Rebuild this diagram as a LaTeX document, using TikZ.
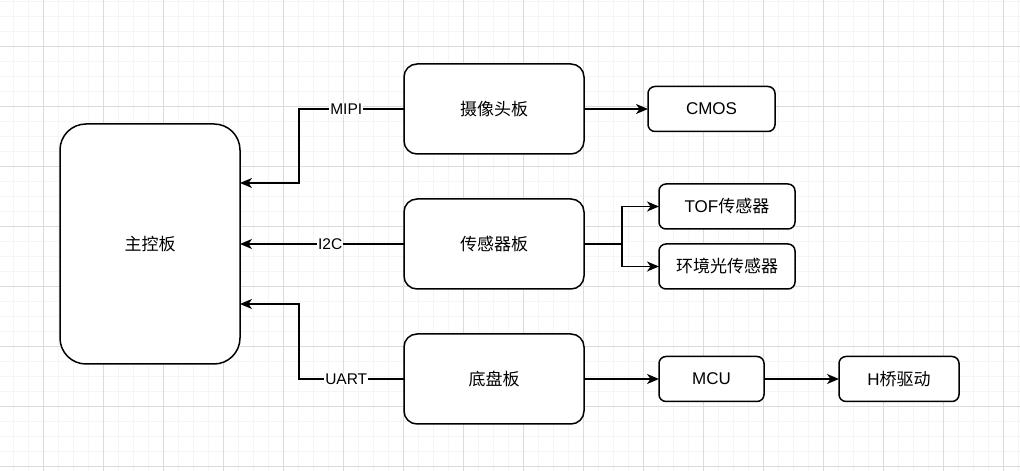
\documentclass[tikz,border=0pt]{standalone}
\usepackage{fontspec}
\setmainfont{Liberation Sans}
\newfontfamily\cjk{Noto Sans CJK SC}
\usetikzlibrary{arrows.meta,positioning}

\begin{document}
\begin{tikzpicture}[
  x=1pt, y=1pt,
  font=\fontsize{17}{20}\selectfont,
  board/.style={draw, line width=1.5pt, outer sep=0pt, rounded corners=13pt,
                minimum width=180pt, minimum height=90pt, align=center, fill=white},
  unit/.style={draw, line width=1.5pt, outer sep=0pt, rounded corners=7pt,
               minimum height=45pt, align=center, fill=white},
  flow/.style={-{Stealth[length=12pt, width=10pt, inset=3.5pt]}, line width=1.5pt},
  lbl/.style={fill=white, inner sep=1pt, font=\fontsize{15.5}{18}\selectfont},
  minorline/.style={draw=black!4, line width=1pt},
  majorline/.style={draw=black!14, line width=1pt}
]
  \useasboundingbox (0,0) rectangle (1020,471);
  % background grid
  \foreach \gx in {13,28,...,1018} \draw[minorline] (\gx,0) -- (\gx,471);
  \foreach \gy in {4,19,...,469} \draw[minorline] (0,\gy) -- (1020,\gy);
  \foreach \gx in {43,103,...,1003} \draw[majorline] (\gx,0) -- (\gx,471);
  \foreach \gy in {4,64,...,424} \draw[majorline] (0,\gy) -- (1020,\gy);

  \node[board, minimum height=240pt, rounded corners=26pt] (main) at (150,227) {\cjk 主控板};
  \node[board, right=164pt of main] (sens) {\cjk 传感器板};
  \node[board, above=45pt of sens] (cam) {\cjk 摄像头板};
  \node[board, below=45pt of sens] (base) {\cjk 底盘板};

  \node[unit, minimum width=127pt, right=64pt of cam] (cmos) {CMOS};
  \node[unit, minimum width=136pt, right=75pt of sens, yshift=37.5pt] (tof) {TOF{\cjk 传感器}};
  \node[unit, minimum width=136pt, below=15pt of tof] (amb) {\cjk 环境光传感器};
  \node[unit, minimum width=105pt, right=75pt of base] (mcu) {MCU};
  \node[unit, minimum width=120pt, right=75pt of mcu] (hbr) {H{\cjk 桥驱动}};

  \coordinate (split) at ([xshift=38pt]sens.east);

  \draw[flow] (cam.west) -- ++(-105pt,0) node[lbl, pos=0.55] {MIPI} |- ([yshift=61pt]main.east);
  \draw[flow] (sens.west) -- node[lbl, pos=0.45] {I2C} (main.east);
  \draw[flow] (base.west) -- ++(-105pt,0) node[lbl, pos=0.55] {UART} |- ([yshift=-60pt]main.east);
  \draw[flow] (cam) -- (cmos);
  \draw[line width=1.5pt] (sens.east) -- (split);
  \draw[flow] (split) |- (tof.west);
  \draw[flow] (split) |- (amb.west);
  \draw[flow] (base) -- (mcu);
  \draw[flow] (mcu) -- (hbr);
\end{tikzpicture}
\end{document}
